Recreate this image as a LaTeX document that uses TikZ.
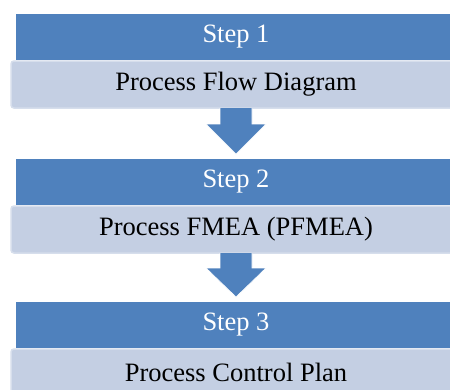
\documentclass[tikz,border=0pt]{standalone}
\usepackage{fontspec}
\setmainfont{Liberation Serif}
\usetikzlibrary{calc}
\definecolor{stepblue}{RGB}{79,129,189}
\definecolor{lightfill}{RGB}{196,207,227}
\definecolor{lightedge}{RGB}{214,222,236}
\tikzset{
  stepbox/.style={rectangle, fill=stepblue, minimum width=440pt, minimum height=46pt,
    inner sep=0pt, outer sep=0pt, text=white, font=\fontsize{26.5}{30}\selectfont},
  descbox/.style={rectangle, rounded corners=3pt, fill=lightfill, draw=lightedge, line width=1.5pt,
    minimum width=450pt, minimum height=47pt, inner sep=0pt, outer sep=0pt,
    text=black, font=\fontsize{26.5}{30}\selectfont},
  flowarrow/.style={fill=stepblue, draw=white, line width=0.6pt}
}
\begin{document}
\begin{tikzpicture}[x=1pt,y=-1pt]
\useasboundingbox (0,0) rectangle (450,389);
\clip (0,0) rectangle (450,389);
\fill[white] (0,0) rectangle (450,389);
\node[stepbox] (blue1) at (236,37) {Step 1};
\node[descbox] (light1) at (236,84.5) {Process Flow Diagram};
\node[stepbox] (blue2) at (236,182) {Step 2};
\node[descbox] (light2) at (236,229.5) {Process FMEA (PFMEA)};
\node[stepbox] (blue3) at (236,325) {Step 3};
\node[descbox] (light3) at (236,372.5) {Process Control Plan};
\draw[flowarrow] ($(light1.south)+(-16,0)$) -- ($(light1.south)+(-16,16)$) -- ($(light1.south)+(-30,16)$)
  -- ($(blue2.north)+(0,-5)$) -- ($(light1.south)+(30,16)$) -- ($(light1.south)+(16,16)$)
  -- ($(light1.south)+(16,0)$);
\draw[flowarrow] ($(light2.south)+(-16,0)$) -- ($(light2.south)+(-16,15)$) -- ($(light2.south)+(-30,15)$)
  -- ($(blue3.north)+(0,-5)$) -- ($(light2.south)+(30,15)$) -- ($(light2.south)+(16,15)$)
  -- ($(light2.south)+(16,0)$);
\end{tikzpicture}
\end{document}
